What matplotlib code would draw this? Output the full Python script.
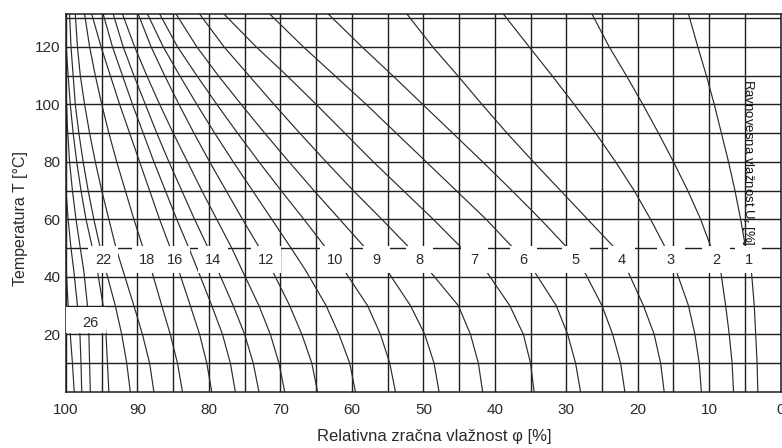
import matplotlib
matplotlib.use("Agg")
import matplotlib.pyplot as plt
import numpy as np
from matplotlib.patches import Rectangle

plt.rcParams["font.family"] = ["Liberation Sans", "DejaVu Sans"]

# temperature levels [°C] at which the humidity of each isoline was read
T_LEVELS = [0, 10, 20, 30, 42, 50, 60, 70, 80, 90, 100, 110, 120, 131.4]

# relative humidity [%] of each equilibrium-moisture isoline at T_LEVELS
U01 = [3.2, 3.3, 3.5, 3.7, 4.1, 4.9, 5.6, 6.4, 7.3, 8.3, 9.3, 10.4, 11.6, 12.9]
U02 = [6.6, 6.8, 7.2, 7.7, 8.4, 9.7, 11.2, 13.0, 15.0, 17.1, 19.3, 21.6, 24.0, 26.4]
U03 = [11.1, 11.4, 12.0, 12.9, 14.6, 16.1, 18.2, 20.5, 23.1, 25.9, 28.9, 32.0, 35.2, 38.8]
U04 = [16.3, 16.8, 17.7, 19.2, 21.4, 23.2, 27.0, 30.8, 34.6, 38.3, 41.8, 45.2, 48.7, 52.3]
U05 = [21.8, 22.4, 23.5, 25.0, 27.5, 29.8, 33.6, 37.6, 41.7, 45.9, 50.1, 54.3, 58.6, 63.3]
U06 = [28.0, 28.7, 29.8, 31.4, 34.5, 37.4, 41.2, 45.4, 49.6, 53.8, 58.0, 62.4, 66.8, 71.5]
U07 = [34.5, 35.0, 36.0, 37.9, 41.2, 44.6, 48.6, 52.8, 57.0, 61.0, 65.0, 69.1, 73.4, 77.9]
U08 = [41.7, 42.3, 43.4, 45.1, 49.1, 51.9, 55.8, 59.8, 63.6, 67.3, 70.9, 74.4, 77.9, 81.3]
U09 = [47.8, 48.5, 49.8, 51.8, 55.0, 58.1, 61.7, 65.3, 68.8, 72.2, 75.5, 78.7, 81.7, 84.6]
U10 = [53.9, 54.7, 56.0, 57.8, 61.0, 63.6, 66.7, 69.9, 73.0, 76.0, 78.9, 81.7, 84.4, 86.9]
U11 = [59.5, 60.3, 61.8, 63.6, 66.4, 68.5, 71.2, 73.9, 76.6, 79.2, 81.7, 84.1, 86.4, 88.6]
U12 = [64.8, 65.6, 67.0, 68.7, 71.1, 72.9, 75.3, 77.6, 79.9, 82.1, 84.2, 86.2, 88.1, 89.9]
U13 = [69.4, 70.2, 71.4, 73.0, 75.3, 76.8, 78.9, 81.0, 83.0, 85.0, 86.9, 88.7, 90.4, 92.1]
U14 = [73.0, 73.8, 75.0, 76.6, 78.7, 80.1, 82.0, 83.8, 85.6, 87.3, 88.9, 90.5, 92.0, 93.4]
U15 = [76.3, 77.0, 78.1, 79.6, 81.5, 82.8, 84.5, 86.1, 87.7, 89.2, 90.7, 92.1, 93.5, 94.8]
U16 = [79.6, 80.3, 81.3, 82.6, 84.2, 85.4, 86.9, 88.3, 89.7, 91.1, 92.5, 93.8, 95.1, 96.4]
U18 = [83.7, 84.4, 85.4, 86.6, 88.0, 89.2, 90.5, 91.7, 92.9, 94.0, 95.0, 95.9, 96.7, 97.4]
U20 = [87.7, 88.3, 89.3, 90.5, 92.0, 93.0, 94.0, 95.0, 95.9, 96.7, 97.4, 98.0, 98.4, 98.7]
U22 = [91.0, 91.5, 92.2, 93.1, 94.4, 95.2, 96.1, 96.9, 97.6, 98.2, 98.7, 99.0, 99.3, 99.5]

# isolines near saturation leave through the 100 % border
T_U24 = [0, 10, 20, 30, 42, 50, 60, 70, 80, 90, 100, 110, 121]
U24 = [94.0, 94.2, 94.4, 94.8, 95.6, 96.3, 97.2, 97.9, 98.5, 99.0, 99.4, 99.7, 100.0]
T_U26 = [0, 10, 20, 30, 42, 50, 60, 70, 80, 92, 106]
U26 = [96.6, 96.7, 96.8, 97.0, 97.5, 98.0, 98.6, 99.1, 99.5, 99.8, 100.0]
T_U28 = [0, 10, 20, 30, 42, 50, 60, 70]
U28 = [97.8, 97.9, 98.05, 98.4, 98.9, 99.3, 99.7, 100.0]
T_U30 = [0, 10, 20, 30, 44]
U30 = [98.85, 99.1, 99.4, 99.7, 100.0]

CURVES = [
    (1, T_LEVELS, U01), (2, T_LEVELS, U02), (3, T_LEVELS, U03), (4, T_LEVELS, U04),
    (5, T_LEVELS, U05), (6, T_LEVELS, U06), (7, T_LEVELS, U07), (8, T_LEVELS, U08),
    (9, T_LEVELS, U09), (10, T_LEVELS, U10), (11, T_LEVELS, U11), (12, T_LEVELS, U12),
    (13, T_LEVELS, U13), (14, T_LEVELS, U14), (15, T_LEVELS, U15), (16, T_LEVELS, U16),
    (18, T_LEVELS, U18), (20, T_LEVELS, U20), (22, T_LEVELS, U22),
    (24, T_U24, U24), (26, T_U26, U26), (28, T_U28, U28), (30, T_U30, U30),
]

# which isolines get a number, and the temperature row where it is written
ROW_LABELS = [1, 2, 3, 4, 5, 6, 7, 8, 9, 10, 12, 14, 16, 18, 22]
ROW_T = 46
LOW_LABEL = 26
LOW_T = 24

LINE_C = "#2b2b2b"
GRID_C = "#1e1e1e"
TEXT_C = "#2a2a2a"

fig = plt.figure(figsize=(7.82, 4.48), dpi=100)
ax = fig.add_axes([66 / 782, 1 - 392 / 448, 714.7 / 782, 378 / 448])

ax.set_xlim(100, 0)
ax.set_ylim(0, 131.4)
ax.set_xticks(np.arange(0, 101, 10))
ax.set_xticks(np.arange(5, 100, 10), minor=True)
ax.set_yticks(np.arange(20, 121, 20))
ax.set_yticks(np.arange(10, 131, 20), minor=True)
ax.grid(True, which="both", color=GRID_C, lw=1.0)
ax.set_axisbelow(True)
ax.tick_params(which="both", length=0, labelsize=11, labelcolor=TEXT_C)
ax.tick_params(axis="x", pad=8)
ax.tick_params(axis="y", pad=4)
for s in ax.spines.values():
    s.set_color(GRID_C)
    s.set_linewidth(1.1)

lookup = {}
for u, t, phi in CURVES:
    ax.plot(phi, t, color=LINE_C, lw=0.85, zorder=2)
    lookup[u] = (t, phi)

# white gaps with the isoline numbers
for u in ROW_LABELS:
    t, phi = lookup[u]
    x = float(np.interp(ROW_T, t, phi))
    hw = 1.9 if u < 10 else 2.1
    ax.add_patch(Rectangle((x - hw, 41.3), 2 * hw, 9.3, facecolor="white",
                           edgecolor="none", zorder=3))
    ax.text(x, ROW_T, str(u), ha="center", va="center", fontsize=10.5,
            color=TEXT_C, zorder=4)

ax.add_patch(Rectangle((94.4, 20.6), 5.6, 8.8, facecolor="white",
                       edgecolor="none", zorder=3))
ax.text(96.6, LOW_T, str(LOW_LABEL), ha="center", va="center", fontsize=10.5,
        color=TEXT_C, zorder=4)

ax.text(4.6, 80, "Ravnovesna vlažnost U$_\\mathregular{r}$ [%]", rotation=270,
        ha="center", va="center", fontsize=9.5, color="#111111", zorder=4)

ax.set_xlabel("Relativna zračna vlažnost φ [%]", fontsize=12, color=TEXT_C)
ax.xaxis.set_label_coords(0.515, -0.097)
ax.set_ylabel("Temperatura T [°C]", fontsize=11.5, color=TEXT_C)
ax.yaxis.set_label_coords(-0.053, 0.458)

fig.savefig("out.png", dpi=100)
